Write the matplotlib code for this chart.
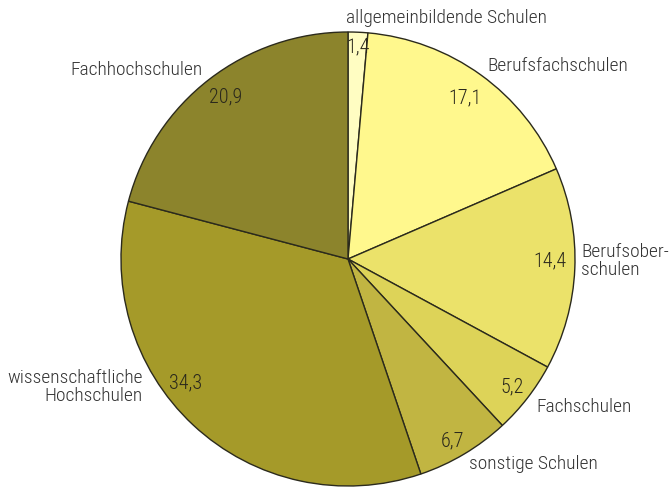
import matplotlib
matplotlib.use("Agg")
import matplotlib.pyplot as plt

categories = ["allgemeinbildende Schulen", "Berufsfachschulen", "Berufsober-\nschulen",
              "Fachschulen", "sonstige Schulen", "wissenschaftliche\nHochschulen",
              "Fachhochschulen"]
values = [1.4, 17.1, 14.4, 5.2, 6.7, 34.3, 20.9]
colors = ["#FFFDC2", "#FFF88D", "#EBE26A", "#DDD358", "#C1B542", "#A59A29", "#8C842C"]

plt.rcParams['font.family'] = ['Roboto Condensed', 'DejaVu Sans']
plt.rcParams['font.weight'] = 'light'

W, H = 671, 489
fig = plt.figure(figsize=(W / 100, H / 100), dpi=100)
ax = fig.add_axes([0, 0, 1, 1])

ax.pie(values, colors=colors, startangle=90, counterclock=False,
       center=(348, H - 260), radius=227, frame=True,
       wedgeprops=dict(edgecolor="#2b2a1c", linewidth=1.0))
ax.set_xlim(0, W)
ax.set_ylim(0, H)
ax.set_aspect('equal')
ax.axis('off')

# value labels inside the wedges
val_pos = [(358, 47), (465, 98), (550, 261), (512, 387), (452, 441), (186, 383), (226, 97)]
for v, (x, y) in zip(values, val_pos):
    ax.text(x, H - y, f"{v:.1f}".replace(".", ","), ha="center", va="center",
            fontsize=14.5, color="#2a281c")

# category labels around the pie
cat_pos = [(346, 18, "left"), (487, 66, "left"), (581, 261, "left"), (536, 407, "left"),
           (469, 464, "left"), (143, 387, "right"), (203, 70, "right")]
for name, (x, y, ha) in zip(categories, cat_pos):
    ax.text(x, H - y, name, ha=ha, va="center", fontsize=14, color="#333333",
            linespacing=1.0, multialignment=ha)

fig.savefig("out.png", dpi=100)
